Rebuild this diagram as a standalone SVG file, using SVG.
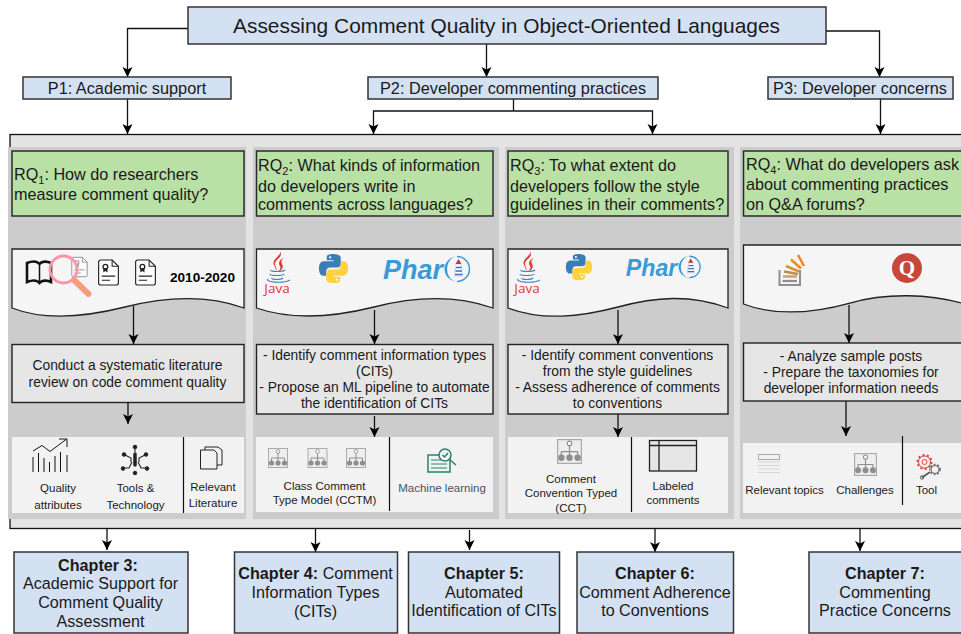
<svg xmlns="http://www.w3.org/2000/svg" xmlns:xlink="http://www.w3.org/1999/xlink" width="961" height="634" viewBox="0 0 961 634">
<style>
text{font-family:"Liberation Sans",Arial,sans-serif;fill:#1a1a1a;text-anchor:middle}
symbol{overflow:visible}
.blue{fill:#d4e1f3;stroke:#333;stroke-width:1.5}
.green{fill:#b9e0a5;stroke:#2b2b2b;stroke-width:1.5}
.panel{fill:#cccccc}
.doc{fill:#f5f5f5;stroke:#222;stroke-width:1.3}
.proc{fill:#e6e6e6;stroke:#222;stroke-width:1.4}
.res{fill:#f2f2f2}
.div{stroke:#111;stroke-width:1.2;fill:none}
.conn{fill:none;stroke:#111;stroke-width:1.3}
.arr{fill:none;stroke:#111;stroke-width:1.3;marker-end:url(#ah)}
.rq{font-size:16.2px;text-anchor:start}
.sub{font-size:11px}
.pr{font-size:13.85px}
.sm{font-size:11.5px}
.ch{font-size:16.15px}
.p{font-size:16.3px}
.line{fill:none;stroke:#111;stroke-width:1}
</style>
<defs>
<marker id="ah" markerUnits="userSpaceOnUse" markerWidth="11" markerHeight="11" refX="10" refY="5.5" orient="auto">
<path d="M0 0.5L10 5.5L0 10.5L2.5 5.5Z" fill="#000"/>
</marker>
<symbol id="tree" viewBox="0 0 20 20">
<rect x="0.5" y="0.5" width="19" height="19" fill="#eee" stroke="#aaa"/>
<circle cx="10" cy="3.5" r="1.8" fill="#fff" stroke="#8e8e8e" stroke-width="0.9"/>
<path d="M10 5.5V10M3.5 10H16.5M3.5 10V13M10 10V13M16.5 10V13" stroke="#8e8e8e" fill="none"/>
<circle cx="3.5" cy="15" r="2.6" fill="#8e8e8e"/><circle cx="10" cy="15" r="2.6" fill="#8e8e8e"/><circle cx="16.5" cy="15" r="2.6" fill="#8e8e8e"/>
</symbol>
<symbol id="cert" viewBox="0 0 21 26">
<path d="M1 3Q1 1 3 1H14L20 7V23Q20 25 18 25H3Q1 25 1 23Z" fill="#fff" stroke="#222" stroke-width="1.1"/>
<path d="M14 1V7H20" fill="none" stroke="#222"/>
<circle cx="7.5" cy="7.5" r="2.3" fill="none" stroke="#222" stroke-width="1.3"/>
<path d="M5.5 9V13L7.5 11.5L9.5 13V9" fill="#222"/>
<path d="M4 16.5H17M4 20.5H12" stroke="#222"/>
</symbol>
<symbol id="java" viewBox="0 0 28 46">
<path d="M17 1C20 6 8 10 11 16C12 18 13 20 13 22C15 19 10 16 13 12C15 9 20 8 17 1ZM21 9C16 11 15 14 17 17C18 19 17 21 15 23C19 21 21 18 19 15C18 13 18 11 21 9Z" fill="#e2382f"/>
<path d="M8 21C6 23 20 23 22 21M7 25C7 27 20 27 21 25M9 29C8 31 18 31 20 29M5 30C2 33 20 35 27 31" fill="none" stroke="#3d85c6" stroke-width="1.2"/>
<text x="14" y="44" style="font-size:13.5px;fill:#e2382f;font-family:'Open Sans',sans-serif">Java</text>
</symbol>
<symbol id="python" viewBox="0 0 32 32">
<path d="M15.7 1C8.5 1 9 4 9 4V7.5H16V8.500H6C6 8.500 1 8 1 16C1 24 5.500 23.500 5.500 23.500H8.500V19.500C8.500 19.500 8.300 15 12.500 15H19.500C19.500 15 23.500 15 23.500 11V5C23.500 5 24 1 15.700 1Z" fill="#3a7cb5"/>
<path d="M16.300 31C23.500 31 23 28 23 28V24.500H16V23.500H26C26 23.500 31 24 31 16C31 8 26.500 8.500 26.500 8.500H23.500V12.500C23.500 12.500 23.700 17 19.500 17H12.500C12.500 17 8.500 17 8.500 21V27C8.500 27 8 31 16.300 31Z" fill="#fdd23e"/>
<circle cx="12.500" cy="4.500" r="1.200" fill="#fff"/><circle cx="19.500" cy="27.500" r="1.200" fill="#fff"/>
</symbol>
<symbol id="pharo" viewBox="0 0 92 30">
<text x="1" y="25" style="font-size:27px;font-weight:700;font-style:italic;fill:#3a9ad9;text-anchor:start;font-family:'Liberation Sans',sans-serif">Phar</text>
<path d="M75 2.500A12.500 12.500 0 1 0 75 27.500A10 12.500 0 0 1 75 2.500Z" fill="#3a9ad9"/>
<path d="M75 2.500A12.500 12.500 0 1 1 75 27.500" fill="none" stroke="#3a9ad9" stroke-width="1.500"/>
<path d="M74 10H79L80.500 22H72.500Z" fill="#fff" stroke="#9db6d8" stroke-width="0.500"/>
<path d="M74 13.500H79.500M73.500 17H80M73 20.500H80.500" stroke="#3f6fb5" stroke-width="1.400"/>
<path d="M73.500 10L76.500 5L79.500 10Z" fill="#c33"/>
</symbol>
</defs>

<rect id="container" x="10" y="134.500" width="960" height="394" fill="#e3e3e3" stroke="#111" stroke-width="1.300"/>

<g id="connectors">
<path class="arr" d="M188 28.500H127.500V77"/>
<path class="arr" d="M486.500 44V77"/>
<path class="arr" d="M826 31H879.500V77"/>
<path class="arr" d="M127.500 99V134"/>
<path class="conn" d="M513.500 99V111"/>
<path class="arr" d="M513.500 111H373.500V134"/>
<path class="arr" d="M513.500 111H652.500V134"/>
<path class="arr" d="M880.500 99V134"/>
<path class="arr" d="M107 528V550"/>
<path class="arr" d="M315.500 528V552"/>
<path class="arr" d="M469.500 530V550"/>
<path class="arr" d="M655 528V552"/>
<path class="arr" d="M860 528V551"/>
</g>

<g id="rq1-column">
<rect class="panel" x="8" y="147" width="238" height="372"/>
<rect class="green" x="12" y="151" width="232" height="65"/>
<text class="rq" x="14" y="180">RQ<tspan class="sub" dy="4">1</tspan><tspan dy="-4">: How do researchers</tspan></text>
<text class="rq" x="14" y="200">measure comment quality?</text>
<path class="doc" d="M12 249H244V308C205 294 165 297 125 307C85 317 45 321 12 308Z"/>
<path d="M27 263C32 261 37 261 39.500 264C42 261 47 261 51 263V282C47 280 42 280 39.500 283C37 280 32 280 27 282Z" fill="none" stroke="#111" stroke-width="2.600"/>
<path d="M39.500 264V283" stroke="#111" stroke-width="1.500"/>
<use href="#cert" x="71" y="256" width="17" height="22" opacity="0.5"/>
<use href="#cert" x="97.500" y="259" width="22" height="27"/>
<use href="#cert" x="134.500" y="259" width="22" height="27"/>
<circle cx="63.500" cy="269.500" r="13.500" fill="none" stroke="#ff94a8" stroke-width="2.800"/>
<path d="M74 280L88.500 294" stroke="#ff94a8" stroke-width="6" stroke-linecap="round"/>
<path d="M74 280L88.500 294" stroke="#f4a460" stroke-width="3.500" stroke-linecap="round"/>
<text x="202.500" y="282" style="font-size:13.600px;font-weight:700;fill:#000">2010-2020</text>
<path class="arr" d="M133.500 306V344"/>
<rect class="proc" x="12" y="344.500" width="232" height="58"/>
<text class="pr" x="127.500" y="370">Conduct a systematic literature</text>
<text class="pr" x="127.500" y="387">review on code comment quality</text>
<path class="arr" d="M128 402V424"/>
<rect class="res" x="12" y="437" width="232" height="76"/>
<path class="div" d="M183.500 437V513"/>
<path class="line" d="M33 451L42 445.500L50 451.500L66 439.500M59 439H67V447"/>
<path class="line" d="M33 472V457M38.500 472V453M44 472V458M49.500 472V462M55 472V456M60.500 472V452M67 472V455"/>
<g fill="#222" stroke="#222">
<circle cx="135" cy="447" r="1.800"/><circle cx="135" cy="473" r="1.800"/>
<path d="M135 454V465" stroke-width="3.500" stroke-linecap="round"/>
<path d="M135 449V452M125 455L131 458V462M145 455L139 458V462M125 468H129L132 462M145 468H141L138 462" fill="none" stroke-width="1.100"/>
<circle cx="124" cy="454.500" r="1.800"/><circle cx="146" cy="454.500" r="1.800"/><circle cx="123" cy="468.500" r="1.800"/><circle cx="147" cy="468.500" r="1.800"/>
</g>
<path d="M205 447H218L222 450V465H205Z" fill="#f2f2f2" stroke="#222"/>
<path d="M200.500 450H214L217 453V469H200.500Z" fill="#f2f2f2" stroke="#222"/>
<text class="sm" x="58" y="492">Quality</text>
<text class="sm" x="58" y="509">attributes</text>
<text class="sm" x="135.500" y="492">Tools &amp;</text>
<text class="sm" x="135.500" y="509">Technology</text>
<text class="sm" x="213" y="491">Relevant</text>
<text class="sm" x="213" y="507">Literature</text>
</g>

<g id="rq2-column">
<rect class="panel" x="253" y="147" width="246" height="372"/>
<rect class="green" x="256.500" y="151" width="236.500" height="65"/>
<text class="rq" x="258" y="171">RQ<tspan class="sub" dy="4">2</tspan><tspan dy="-4">: What kinds of information</tspan></text>
<text class="rq" x="258" y="192">do developers write in</text>
<text class="rq" x="258" y="210">comments across languages?</text>
<path class="doc" d="M256.500 249H493V308C453 294 413 297 374 307C334 317 294 321 256.500 308Z"/>
<use href="#java" x="263" y="249" width="28" height="46"/>
<use href="#python" x="318" y="253" width="31" height="31"/>
<use href="#pharo" x="382" y="254" width="92" height="30"/>
<path class="arr" d="M374.500 310V344"/>
<rect class="proc" x="256.500" y="344.500" width="236.500" height="69.500"/>
<text class="pr" x="374.500" y="360">- Identify comment information types</text>
<text class="pr" x="374.500" y="376">(CITs)</text>
<text class="pr" x="374.500" y="392">- Propose an ML pipeline to automate</text>
<text class="pr" x="374.500" y="408">the identification of CITs</text>
<path class="arr" d="M374.500 416V437"/>
<rect class="res" x="256" y="437" width="237" height="75"/>
<path class="div" d="M389.500 437V511"/>
<use href="#tree" x="268" y="448" width="20" height="20"/>
<use href="#tree" x="307.500" y="448" width="20" height="20"/>
<use href="#tree" x="346" y="448" width="20" height="20"/>
<text class="sm" x="324.500" y="490">Class Comment</text>
<text class="sm" x="324.500" y="504">Type Model (CCTM)</text>
<path d="M428 455H450V472H428Z" fill="#f2f2f2" stroke="#23846a" stroke-width="1.500"/>
<path d="M431 460H441M431 464H447M431 468H447" stroke="#23846a" stroke-width="1.200"/>
<circle cx="445" cy="455" r="6" fill="#f2f2f2" stroke="#23846a" stroke-width="1.500"/>
<path d="M442.500 455L444.500 457L448 453M449.500 459.500L456 465" fill="none" stroke="#23846a" stroke-width="1.500"/>
<text class="sm" x="442" y="492" style="fill:#44546a">Machine learning</text>
</g>

<g id="rq3-column">
<rect class="panel" x="505" y="147" width="229" height="372"/>
<rect class="green" x="508" y="151" width="220" height="65"/>
<text class="rq" x="510" y="171">RQ<tspan class="sub" dy="4">3</tspan><tspan dy="-4">: To what extent do</tspan></text>
<text class="rq" x="510" y="192">developers follow the style</text>
<text class="rq" x="510" y="210">guidelines in their comments?</text>
<path class="doc" d="M508 249H728V308C690 294 655 297 618 307C580 317 543 321 508 308Z"/>
<use href="#java" x="513" y="249" width="28" height="46"/>
<use href="#python" x="565" y="253" width="28" height="28"/>
<use href="#pharo" x="625" y="254" width="79" height="26" preserveAspectRatio="none"/>
<path class="arr" d="M618 310V344"/>
<rect class="proc" x="508" y="344.500" width="220" height="69.500"/>
<text class="pr" x="617.500" y="360">- Identify comment conventions</text>
<text class="pr" x="617.500" y="376">from the style guidelines</text>
<text class="pr" x="617.500" y="392">- Assess adherence of comments</text>
<text class="pr" x="617.500" y="408">to conventions</text>
<path class="arr" d="M618 414V437"/>
<rect class="res" x="508" y="437" width="220" height="76"/>
<path class="div" d="M631.500 437V512"/>
<use href="#tree" x="557" y="439" width="25" height="25"/>
<text class="sm" x="571" y="483">Comment</text>
<text class="sm" x="571" y="497">Convention Typed</text>
<text class="sm" x="571" y="512">(CCT)</text>
<rect x="649.500" y="440.500" width="47" height="30.500" fill="#e6e6e6" stroke="#222" stroke-width="1.300"/>
<path d="M649.500 445.500H696.500M659 440.500V471" stroke="#222" stroke-width="1.300"/>
<text class="sm" x="673" y="490">Labeled</text>
<text class="sm" x="673" y="504">comments</text>
</g>

<g id="rq4-column">
<rect class="panel" x="740" y="147" width="230" height="372"/>
<rect class="green" x="743.500" y="151" width="225" height="65"/>
<text class="rq" x="746" y="170">RQ<tspan class="sub" dy="4">4</tspan><tspan dy="-4">: What do developers ask</tspan></text>
<text class="rq" x="746" y="190">about commenting practices</text>
<text class="rq" x="746" y="210">on Q&amp;A forums?</text>
<path class="doc" d="M743.500 245H968V305C930 293 885 293 850 303C810 314 775 316 743.500 304Z"/>
<path d="M779.500 270V285H800V270" fill="none" stroke="#8f8f8f" stroke-width="2"/>
<path d="M782.500 281H797" stroke="#8f8f8f" stroke-width="2.200"/>
<path d="M783 276.500H797" stroke="#c0a37a" stroke-width="2.500"/>
<path d="M784 271.500L798 274" stroke="#bc8d4f" stroke-width="2.500"/>
<path d="M786 266L799 271.500" stroke="#d9913a" stroke-width="2.500"/>
<path d="M791 259.500L801 268.500" stroke="#ef8a1e" stroke-width="2.500"/>
<path d="M798 255L804 266" stroke="#f48024" stroke-width="2.500"/>
<circle cx="907" cy="268" r="15" fill="#c9473a"/>
<text x="907" y="275" style="font-size:21px;font-weight:700;fill:#fff;font-family:'Liberation Serif',serif">Q</text>
<path class="arr" d="M849 305V343"/>
<rect class="proc" x="743.500" y="343" width="225" height="58"/>
<text class="pr" x="851" y="361">- Analyze sample posts</text>
<text class="pr" x="851" y="377">- Prepare the taxonomies for</text>
<text class="pr" x="851" y="393">developer information needs</text>
<path class="arr" d="M846 401V436"/>
<rect class="res" x="743" y="443" width="225" height="70"/>
<path class="div" d="M902.500 436V505"/>
<rect x="758.500" y="454.500" width="21" height="5" fill="#f2f2f2" stroke="#aaa"/>
<path d="M758.500 462H780M758.500 465.500H780M758.500 469H780M758.500 472.500H780" stroke="#bbb" stroke-dasharray="1 1"/>
<use href="#tree" x="854" y="453" width="23" height="23"/>
<text class="sm" x="784.500" y="494">Relevant topics</text>
<text class="sm" x="865" y="494">Challenges</text>
<text class="sm" x="926.500" y="494">Tool</text>
<circle cx="924.500" cy="462" r="6" fill="#f7f2f2" stroke="#e0403a" stroke-width="1"/>
<circle cx="924.500" cy="462" r="7" fill="none" stroke="#e0403a" stroke-width="2" stroke-dasharray="2 2.400"/>
<circle cx="924.500" cy="462" r="2.500" fill="none" stroke="#e0403a"/>
<circle cx="935" cy="469.500" r="4" fill="#f2f2f2" stroke="#666" stroke-width="1"/>
<circle cx="935" cy="469.500" r="5" fill="none" stroke="#666" stroke-width="1.600" stroke-dasharray="1.800 1.800"/>
<path d="M922 477.500L930 472" stroke="#555" stroke-width="1.600"/>
<circle cx="922" cy="477.500" r="1.700" fill="none" stroke="#555"/>
</g>

<g id="title"><rect class="blue" x="188" y="7" width="638" height="37"/>
<text x="506.500" y="33" style="font-size:20.900px">Assessing Comment Quality in Object-Oriented Languages</text></g>
<g id="p1"><rect class="blue" x="23" y="77" width="208" height="22"/><text class="p" x="127" y="94">P1: Academic support</text></g>
<g id="p2"><rect class="blue" x="368" y="77" width="290" height="22"/><text class="p" x="513" y="94">P2: Developer commenting practices</text></g>
<g id="p3"><rect class="blue" x="768" y="77" width="185" height="22"/><text class="p" x="860" y="94">P3: Developer concerns</text></g>

<g id="chapter3"><rect class="blue" x="14" y="552" width="174" height="81"/>
<text class="ch" x="98" y="571" style="font-weight:700">Chapter 3:</text>
<text class="ch" x="100.500" y="589">Academic Support for</text>
<text class="ch" x="100.500" y="608">Comment Quality</text>
<text class="ch" x="100.500" y="627">Assessment</text></g>
<g id="chapter4"><rect class="blue" x="234.500" y="552" width="163" height="81"/>
<text class="ch" x="315.500" y="579"><tspan style="font-weight:700">Chapter 4:</tspan> Comment</text>
<text class="ch" x="315.500" y="598">Information Types</text>
<text class="ch" x="315.500" y="617">(CITs)</text></g>
<g id="chapter5"><rect class="blue" x="408.500" y="552" width="151" height="81"/>
<text class="ch" x="484" y="579" style="font-weight:700">Chapter 5:</text>
<text class="ch" x="484" y="598">Automated</text>
<text class="ch" x="484" y="616">Identification of CITs</text></g>
<g id="chapter6"><rect class="blue" x="577" y="552" width="156.500" height="81"/>
<text class="ch" x="655" y="579" style="font-weight:700">Chapter 6:</text>
<text class="ch" x="655" y="598">Comment Adherence</text>
<text class="ch" x="655" y="616">to Conventions</text></g>
<g id="chapter7"><rect class="blue" x="809" y="552" width="160" height="81"/>
<text class="ch" x="885" y="579" style="font-weight:700">Chapter 7:</text>
<text class="ch" x="885" y="598">Commenting</text>
<text class="ch" x="885" y="616">Practice Concerns</text></g>
</svg>
